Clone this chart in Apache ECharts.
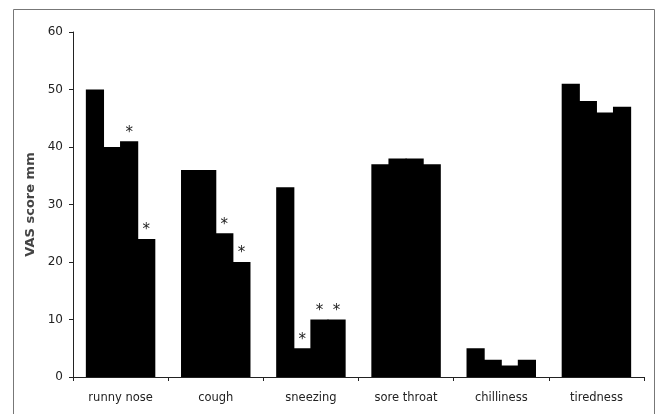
<!DOCTYPE html>
<html><head><meta charset="utf-8">
<script src="https://cdn.jsdelivr.net/npm/echarts@6/dist/echarts.min.js"></script>
<style>html,body{margin:0;padding:0;background:#fff}#c{width:658px;height:414px}</style>
</head><body><div id="c"></div>
<script>
const categories = ['runny nose', 'cough', 'sneezing', 'sore throat', 'chilliness', 'tiredness'];
const series1 = [50, 36, 33, 37, 5, 51];
const series2 = [40, 36, 5, 38, 3, 48];
const series3 = [41, 25, 10, 38, 2, 46];
const series4 = [24, 20, 10, 37, 3, 47];
const stars1 = [0, 0, 0, 0, 0, 0];
const stars2 = [0, 0, 1, 0, 0, 0];
const stars3 = [1, 1, 1, 0, 0, 0];
const stars4 = [1, 1, 1, 0, 0, 0];
const yTicks = [0, 10, 20, 30, 40, 50, 60];

const font = 'DejaVu Sans, Verdana, sans-serif';
function mk(vals, stars) {
  return {
    type: 'bar',
    barGap: '-6%',
    barCategoryGap: '27%',
    itemStyle: { color: '#000', borderWidth: 0 },
    data: vals.map((v, i) => ({
      value: v,
      label: { show: !!stars[i], position: 'top', formatter: '*', distance: 1,
               fontSize: 15, color: '#222', fontFamily: font }
    })),
    animation: false
  };
}
const chart = echarts.init(document.getElementById('c'));
chart.setOption({
  animation: false,
  grid: { left: 73, right: 14, top: 32, bottom: 37 },
  graphic: [{ type: 'rect', shape: { x: 13.5, y: 9.5, width: 641, height: 410 },
              style: { fill: 'none', stroke: '#777', lineWidth: 1 }, silent: true }],
  xAxis: {
    type: 'category', data: categories,
    axisLine: { lineStyle: { color: '#222', width: 1 } },
    axisTick: { show: true, length: 4, lineStyle: { color: '#222' } },
    axisLabel: { margin: 15, fontSize: 11.5, color: '#222', fontFamily: font }
  },
  yAxis: {
    type: 'value', min: yTicks[0], max: yTicks[yTicks.length - 1], interval: 10,
    name: 'VAS score mm', nameLocation: 'middle', nameGap: 24,
    nameTextStyle: { fontSize: 13, fontWeight: 'bold', color: '#444', fontFamily: font },
    axisLine: { show: true, lineStyle: { color: '#222', width: 1 } },
    axisTick: { show: true, length: 4, lineStyle: { color: '#222' } },
    splitLine: { show: false },
    axisLabel: { margin: 10, fontSize: 12, color: '#222', fontFamily: font }
  },
  series: [mk(series1, stars1), mk(series2, stars2), mk(series3, stars3), mk(series4, stars4)]
});
</script></body></html>
